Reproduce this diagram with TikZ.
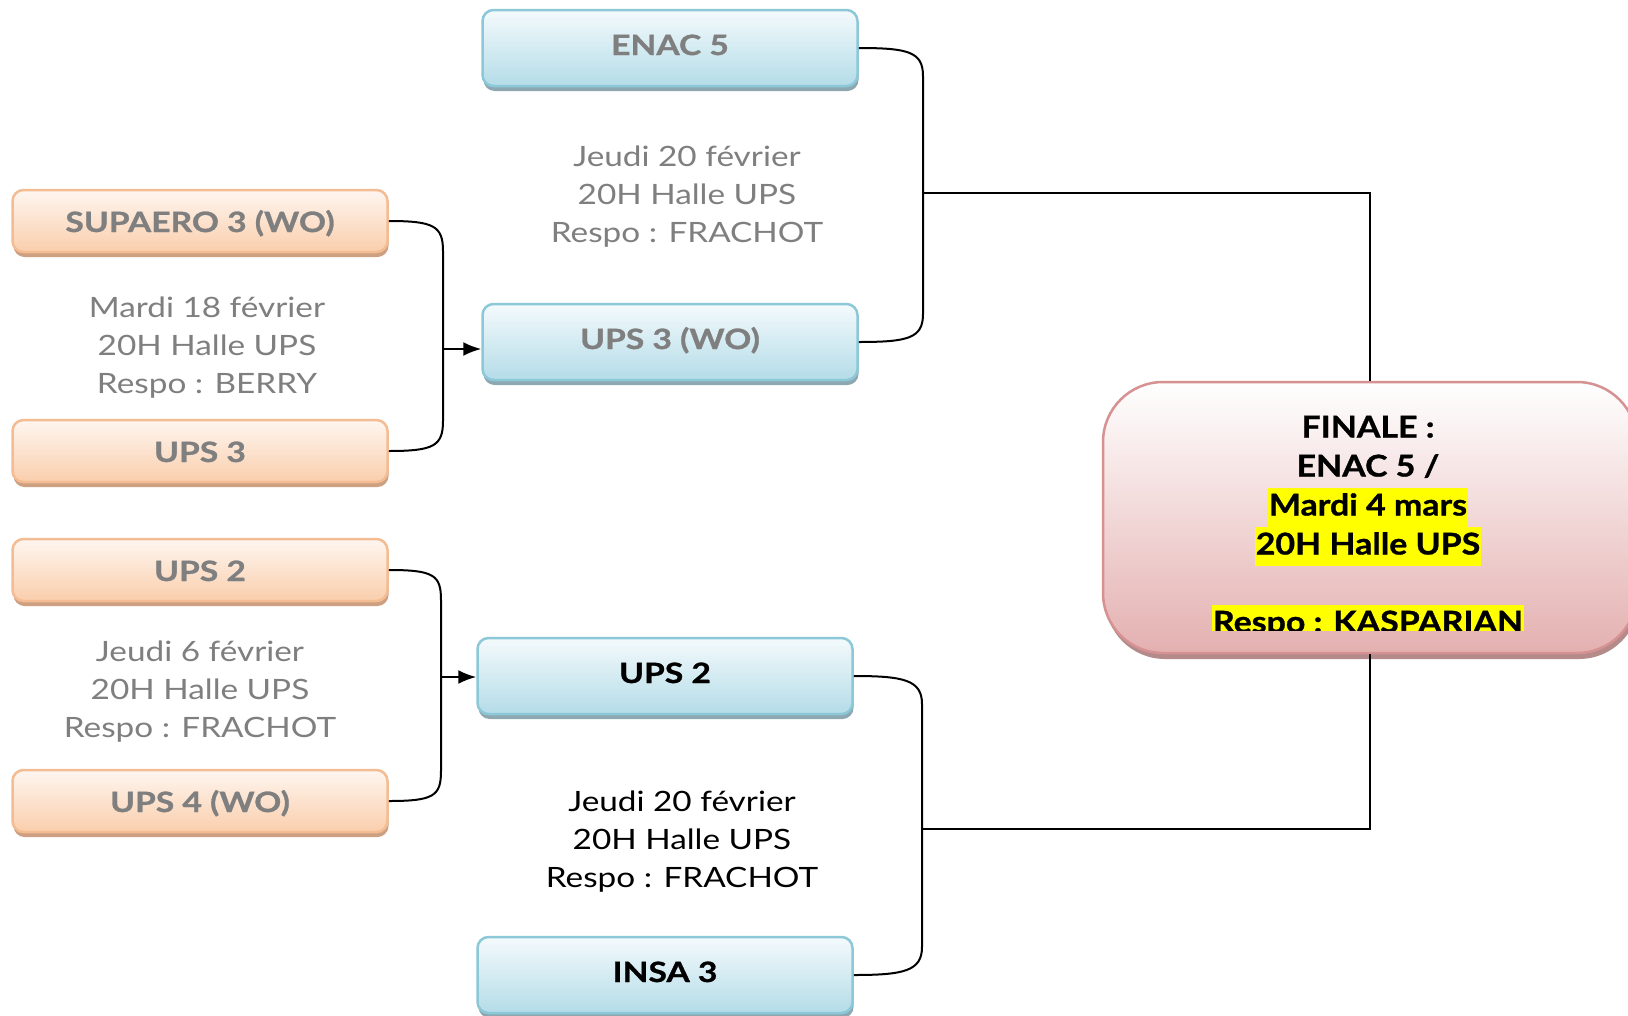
\documentclass[tikz,border=0pt]{standalone}
\usepackage{fontspec}
\setmainfont{Lato}[FakeStretch=1.19]
\newfontfamily\labelfont{Lato}[FakeStretch=1.2, BoldFeatures={FakeBold=1}]
\newfontfamily\finfont{Lato}[FakeStretch=1.13, BoldFeatures={FakeBold=1}]
\usetikzlibrary{arrows.meta,calc,shadows}
\definecolor{txtgray}{RGB}{127,127,127}
\definecolor{oborder}{RGB}{244,188,146}
\definecolor{otop}{RGB}{254,246,240}
\definecolor{obot}{RGB}{250,206,172}
\definecolor{oshadow}{RGB}{205,160,130}
\definecolor{bborder}{RGB}{140,200,216}
\definecolor{btop}{RGB}{244,250,252}
\definecolor{bbot}{RGB}{180,220,232}
\definecolor{bshadow}{RGB}{142,168,178}
\definecolor{fborder}{RGB}{214,146,146}
\definecolor{ftop}{RGB}{255,255,255}
\definecolor{fbot}{RGB}{228,176,176}
\definecolor{fshadow}{RGB}{180,138,138}
\definecolor{hlyellow}{RGB}{255,255,0}
\newcommand\sline[1]{\strut#1}
\newcommand\hlbox[1]{{\fboxsep=0pt\colorbox{hlyellow}{\strut\hspace{1pt}#1\hspace{1pt}}}}
\begin{document}
\begin{tikzpicture}[x=1pt,y=-1pt,
  boxbase/.style={rounded corners=11pt, line width=2.5pt, align=center, inner sep=0pt,
    font=\labelfont\fontsize{28}{34}\selectfont\bfseries},
  obox/.style={boxbase, draw=oborder, top color=otop, bottom color=obot,
    minimum width=375pt, minimum height=62pt, text=txtgray,
    text height=22pt, text depth=0pt,
    drop shadow={shadow xshift=1pt, shadow yshift=-5pt, fill=oshadow, opacity=1}},
  bbox/.style={boxbase, draw=bborder, top color=btop, bottom color=bbot,
    minimum width=375pt, minimum height=76pt, text=txtgray,
    text height=20pt, text depth=6pt,
    drop shadow={shadow xshift=1pt, shadow yshift=-5pt, fill=bshadow, opacity=1}},
  fbox/.style={rounded corners=60pt, line width=2.5pt, draw=fborder, top color=ftop, bottom color=fbot,
    minimum width=534pt, minimum height=271pt, inner sep=0pt,
    drop shadow={shadow xshift=2pt, shadow yshift=-6pt, fill=fshadow, opacity=1}},
  dtext/.style={align=center, inner sep=0pt, font=\fontsize{28}{38}\selectfont, text=txtgray},
  ftext/.style={align=center, inner sep=0pt, font=\finfont\fontsize{30}{39}\selectfont\bfseries, text=black},
  conn/.style={line width=2pt, draw=black},
  arr/.style={conn, -{Latex[length=18pt,width=14pt]}}
]
\useasboundingbox (0,0) rectangle (1628,1015);
\clip (0,0) rectangle (1628,1015);
\fill[white] (0,0) rectangle (1628,1015);

% first round (left)
\node[obox] (sup) at (200,221) {SUPAERO 3 (WO)};
\node[obox] (ups3o) at (200,451) {UPS 3};
\node[obox] (ups2o) at (200,570) {UPS 2};
\node[obox] (ups4o) at (200,801) {UPS 4 (WO)};

% second round (middle)
\node[bbox] (enac) at (670,48) {ENAC 5};
\node[bbox] (ups3b) at (670,342) {UPS 3 (WO)};
\node[bbox, text=black] (ups2b) at (665,676) {UPS 2};
\node[bbox, text=black] (insa) at (665,975) {INSA 3};

% final
\node[fbox] (finale) at (1370,517.5) {};

% match texts
\node[dtext] (t1) at (207,348) {\sline{Mardi 18 février}\\\sline{20H Halle UPS}\\\sline{Respo : BERRY}};
\node[dtext] (t2) at (200,692) {\sline{Jeudi 6 février}\\\sline{20H Halle UPS}\\\sline{Respo : FRACHOT}};
\node[dtext] (t3) at (687,197) {\sline{Jeudi 20 février}\\\sline{20H Halle UPS}\\\sline{Respo : FRACHOT}};
\node[dtext, text=black] (t4) at (682,842) {\sline{Jeudi 20 février}\\\sline{20H Halle UPS}\\\sline{Respo : FRACHOT}};

\begin{scope}
  \clip (1100,382) rectangle (1628,630);
  \node[ftext, anchor=north] (ft) at (1368,410) {\sline{FINALE :}\\\sline{ENAC 5 /}\\\hlbox{Mardi 4 mars}\\\hlbox{20H Halle UPS}\\\sline{}\\\hlbox{Respo : KASPARIAN}};
\end{scope}

% connectors, left upper
\coordinate (j1) at (443,349);
\draw[conn] (sup.east) .. controls +(45,0) and +(0,-25) .. ($(sup.east -| j1)+(0,30)$)
  -- ($(ups3o.east -| j1)+(0,-30)$) .. controls +(0,25) and +(45,0) .. (ups3o.east);
\draw[arr] (j1) -- (j1 -| ups3b.west);

% connectors, left lower
\coordinate (j2) at (441,677);
\draw[conn] (ups2o.east) .. controls +(45,0) and +(0,-25) .. ($(ups2o.east -| j2)+(0,30)$)
  -- ($(ups4o.east -| j2)+(0,-30)$) .. controls +(0,25) and +(45,0) .. (ups4o.east);
\draw[arr] (j2) -- (j2 -| ups2b.west);

% connectors, right upper
\coordinate (k1) at (923,193);
\draw[conn] (enac.east) .. controls +(50,0) and +(0,-24) .. ($(enac.east -| k1)+(0,28)$)
  -- ($(ups3b.east -| k1)+(0,-28)$) .. controls +(0,24) and +(50,0) .. (ups3b.east);
\draw[conn] (k1) -| (finale.north);

% connectors, right lower
\coordinate (k2) at (922,829);
\draw[conn] (ups2b.east) .. controls +(50,0) and +(0,-24) .. ($(ups2b.east -| k2)+(0,28)$)
  -- ($(insa.east -| k2)+(0,-28)$) .. controls +(0,24) and +(50,0) .. (insa.east);
\draw[conn] (k2) -| (finale.south);
\end{tikzpicture}
\end{document}
